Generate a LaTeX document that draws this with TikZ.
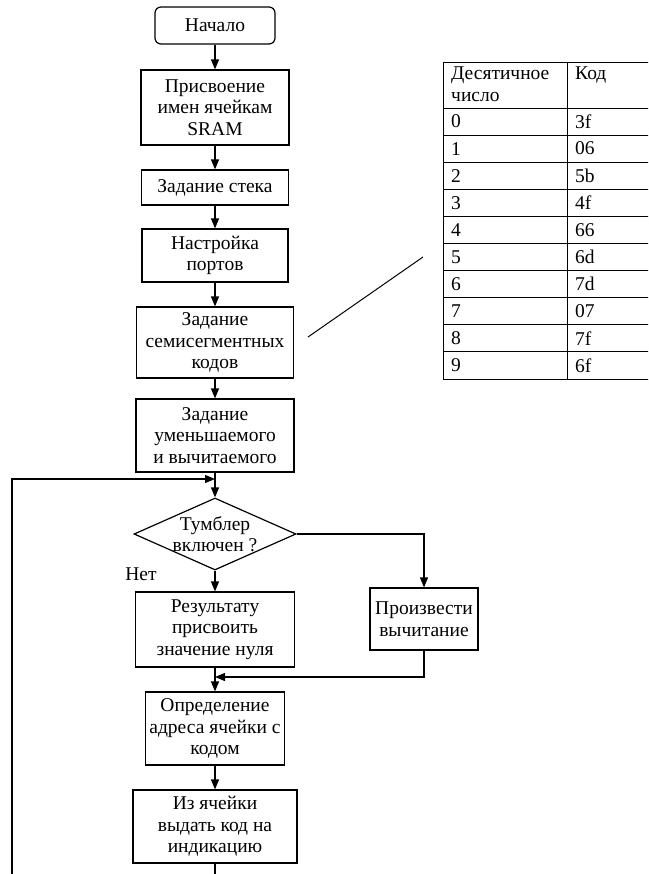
\documentclass[tikz,border=0pt]{standalone}
\usepackage{fontspec}
\setmainfont{Liberation Serif}
\usetikzlibrary{shapes.geometric,arrows.meta}

\begin{document}
\begin{tikzpicture}[x=1pt,y=-1pt,
    blk/.style={draw, line width=1.2pt, align=center, inner sep=1pt, font=\fontsize{19.5}{21.5}\selectfont},
    dmd/.style={draw, diamond, line width=1.2pt, inner sep=0pt, minimum width=162, minimum height=72, aspect=2.25},
    txt/.style={align=center, inner sep=0pt, font=\fontsize{19.5}{21.5}\selectfont},
    cell/.style={anchor=west, inner sep=0pt, font=\fontsize{19.5}{21.5}\selectfont},
    arr/.style={line width=1.2pt, -{Triangle[length=10pt,width=8pt]}},
    tab/.style={line width=0.9pt}]
    \useasboundingbox (0,0) rectangle (648,874);
    \clip (0,0) rectangle (648,874);

    % flowchart
    \node [blk, rounded corners=6pt, minimum width=120, minimum height=37] (start) at (215,25.5) {Начало};
    \node [blk, minimum width=148, minimum height=75] (sram) at (215,107.5) {Присвоение\\имен ячейкам\\SRAM};
    \node [blk, minimum width=147, minimum height=35] (stek) at (215,187.5) {Задание стека};
    \node [blk, minimum width=146, minimum height=53] (port) at (215,255.5) {Настройка\\портов};
    \node [blk, minimum width=157, minimum height=71] (semi) at (215,342.5) {Задание\\семисегментных\\кодов};
    \node [blk, minimum width=158, minimum height=73] (umen) at (215,435.5) {Задание\\уменьшаемого\\и вычитаемого};

    \node [dmd] (tumb) at (215,534) {};
    \node [txt] (tumbtxt) at (215,534) {Тумблер\\включен ?};
    \node [txt] (net) at (141,574) {Нет};

    \node [blk, minimum width=159, minimum height=75] (nul) at (215,629.5) {Результату\\присвоить\\значение нуля};
    \node [blk, minimum width=108, minimum height=62] (vych) at (424,619) {Произвести\\вычитание};
    \node [blk, minimum width=139, minimum height=73] (opr) at (215,728.5) {Определение\\адреса ячейки с\\кодом};
    \node [blk, minimum width=164, minimum height=73] (ind) at (215,826.5) {Из ячейки\\выдать код на\\индикацию};

    \coordinate (merge) at (215,677);
    \coordinate (loopjoin) at (215,479);
    \coordinate (loopbot) at (215,890);
    \coordinate (loopleft) at (12,890);

    \draw [arr] (start) -- (sram);
    \draw [arr] (sram) -- (stek);
    \draw [arr] (stek) -- (port);
    \draw [arr] (port) -- (semi);
    \draw [arr] (semi) -- (umen);
    \draw [arr] (umen) -- (tumb);
    \draw [arr] (tumb) -- (nul);
    \draw [arr] (tumb.east) -| (vych.north);
    \draw [arr] (vych.south) |- (merge);
    \draw [arr] (nul) -- (opr);
    \draw [arr] (opr) -- (ind);
    \draw [arr] (ind.south) -- (loopbot) -- (loopleft) |- (loopjoin);

    % code table
    \coordinate (diagA) at (308,337);
    \coordinate (diagB) at (423,257);
    \draw [line width=1pt] (diagA) -- (diagB);

    \draw [tab] (443,62) -- (680,62);
    \draw [tab] (443,108) -- (680,108);
    \draw [tab] (443,135.1) -- (680,135.1);
    \draw [tab] (443,162.2) -- (680,162.2);
    \draw [tab] (443,189.3) -- (680,189.3);
    \draw [tab] (443,216.4) -- (680,216.4);
    \draw [tab] (443,243.5) -- (680,243.5);
    \draw [tab] (443,270.6) -- (680,270.6);
    \draw [tab] (443,297.7) -- (680,297.7);
    \draw [tab] (443,324.8) -- (680,324.8);
    \draw [tab] (443,351.9) -- (680,351.9);
    \draw [tab] (443,379) -- (680,379);
    \draw [tab] (443,62) -- (443,379);
    \draw [tab] (567,62) -- (567,379);

    \node [cell, anchor=north west, align=left] (hdec) at (451,67) {Десятичное\\число};
    \node [cell, anchor=north west] (hkod) at (575,67) {Код};

    \node [cell] (d0) at (451,121.5) {0};   \node [cell] (k0) at (575,121.5) {3f};
    \node [cell] (d1) at (451,148.6) {1};   \node [cell] (k1) at (575,148.6) {06};
    \node [cell] (d2) at (451,175.7) {2};   \node [cell] (k2) at (575,175.7) {5b};
    \node [cell] (d3) at (451,202.8) {3};   \node [cell] (k3) at (575,202.8) {4f};
    \node [cell] (d4) at (451,229.9) {4};   \node [cell] (k4) at (575,229.9) {66};
    \node [cell] (d5) at (451,257.0) {5};   \node [cell] (k5) at (575,257.0) {6d};
    \node [cell] (d6) at (451,284.1) {6};   \node [cell] (k6) at (575,284.1) {7d};
    \node [cell] (d7) at (451,311.2) {7};   \node [cell] (k7) at (575,311.2) {07};
    \node [cell] (d8) at (451,338.3) {8};   \node [cell] (k8) at (575,338.3) {7f};
    \node [cell] (d9) at (451,365.4) {9};   \node [cell] (k9) at (575,365.4) {6f};
\end{tikzpicture}
\end{document}
